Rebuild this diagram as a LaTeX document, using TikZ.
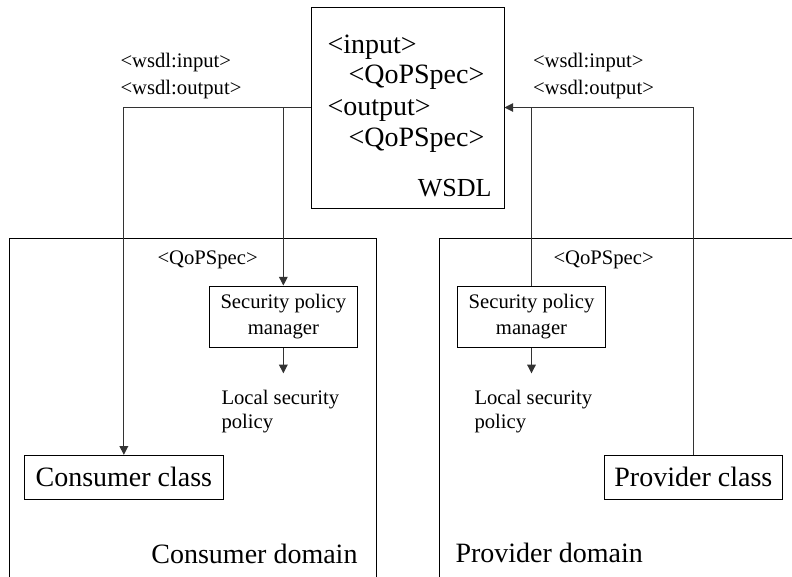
\documentclass[tikz,border=0pt]{standalone}
\usepackage{fontspec}
\setmainfont{Liberation Serif}
\usetikzlibrary{arrows.meta,fit}
\begin{document}
\begin{tikzpicture}[x=0.75pt,y=-0.75pt,
  line width=0.75pt,
  fitbox/.style={draw=black, line width=0.75pt, inner sep=0pt},
  bigtxt/.style={font=\fontsize{21}{25}\selectfont, inner sep=0pt},
  smalltxt/.style={font=\fontsize{15.5}{19.3}\selectfont, inner sep=0pt},
  spmbox/.style={draw=black, line width=0.75pt, inner sep=0pt, align=center,
    font=\fontsize{15.5}{19.3}\selectfont,
    minimum width={148.7*0.75pt}, minimum height={61.3*0.75pt}},
  classbox/.style={draw=black, line width=0.75pt, inner sep=0pt,
    font=\fontsize{21}{25}\selectfont, minimum height={44*0.75pt}},
  conn/.style={draw=black!80, line width=0.75pt},
  tip/.style={-{Triangle[length=6.5pt,width=6.5pt]}},
  domainedge/.style={draw=black, line width=0.75pt}]
\useasboundingbox (0,0) rectangle (792,576);

% domains (open at the page edges)
\draw[domainedge] (9,590) -- (9,238) -- (376,238) -- (376,590);
\draw[domainedge] (439,590) -- (439,238) -- (810,238);

% WSDL document
\node[fitbox, fit={(311,7) (504,208)}] (wsdl) {};
\node[bigtxt, anchor=base west] (win) at (327,53) {<input>};
\node[bigtxt, anchor=base west] (wqi) at (348,83) {<QoPSpec>};
\node[bigtxt, anchor=base west] (wout) at (327,115) {<output>};
\node[bigtxt, anchor=base west] (wqo) at (348,146) {<QoPSpec>};
\node[font=\fontsize{19.5}{24}\selectfont, inner sep=0pt, anchor=base east] (wname) at (492,196.5) {WSDL};

% message labels
\node[smalltxt, anchor=base west] (cwi) at (120,67) {<wsdl:input>};
\node[smalltxt, anchor=base west] (cwo) at (120,94) {<wsdl:output>};
\node[smalltxt, anchor=base west] (pwi) at (532.5,67) {<wsdl:input>};
\node[smalltxt, anchor=base west] (pwo) at (532.5,94) {<wsdl:output>};

% consumer side
\node[smalltxt, anchor=base west] (cq) at (157,264) {<QoPSpec>};
\node[spmbox] (cspm) at (283.35,316.65) {Security policy\\manager};
\node[smalltxt, anchor=base west] (cl1) at (221,404) {Local security};
\node[smalltxt, anchor=base west] (cl2) at (221,428.5) {policy};
\node[classbox, minimum width={198.3*0.75pt}] (cclass) at (123.85,477.3) {Consumer class};
\node[bigtxt, anchor=base east] (cdom) at (358,563) {Consumer domain};

% provider side
\node[smalltxt, anchor=base west] (pq) at (553,264) {<QoPSpec>};
\node[spmbox] (pspm) at (531.5,316.65) {Security policy\\manager};
\node[smalltxt, anchor=base west] (pl1) at (474,404) {Local security};
\node[smalltxt, anchor=base west] (pl2) at (474,428.5) {policy};
\node[classbox, minimum width={178.7*0.75pt}] (pclass) at (693.35,477.3) {Provider class};
\node[bigtxt, anchor=base west] (pdom) at (455,562.5) {Provider domain};

% connectors
\coordinate (cjoin) at (cspm.north |- wsdl.west);
\coordinate (pjoin) at (pspm.north |- wsdl.east);
\coordinate (clocal) at (283.35,373.3);
\coordinate (plocal) at (531.5,373.3);

\draw[conn, tip] (wsdl.west) -| (cclass.north);
\draw[conn, tip] (cjoin) -- (cspm.north);
\draw[conn, tip] (cspm.south) -- (clocal);

\draw[conn, tip] (pclass.north) |- (wsdl.east);
\draw[conn] (pspm.north) -- (pjoin);
\draw[conn, tip] (pspm.south) -- (plocal);
\end{tikzpicture}
\end{document}
